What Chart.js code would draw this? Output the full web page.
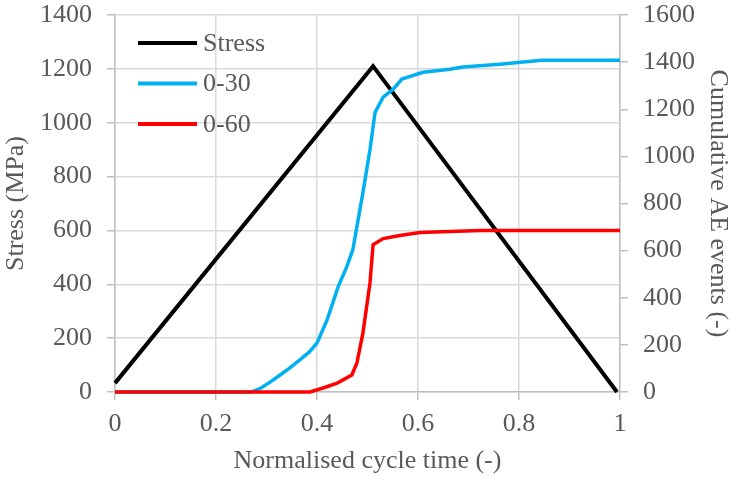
<!DOCTYPE html>
<html>
<head>
<meta charset="utf-8">
<script src="https://cdn.jsdelivr.net/npm/chart.js@4"></script>
<style>
  html, body { margin: 0; padding: 0; background: #fff; }
  #wrap { width: 733px; height: 477px; }
</style>
</head>
<body>
<div id="wrap"><canvas id="myChart" width="733" height="477"></canvas></div>
<script>
// stress cycle (left axis, MPa)
const stressTime = [0, 0.511, 0.994];
const stressValues = [33, 1210, 0];

// AE events, 0-30 (right axis)
const ae30Time = [0, 0.27, 0.29, 0.307, 0.327, 0.345, 0.366, 0.385, 0.4, 0.42, 0.442, 0.459, 0.471,
    0.479, 0.491, 0.505, 0.515, 0.531, 0.551, 0.568, 0.61, 0.663, 0.689, 0.762, 0.788, 0.845, 1.0];
const ae30Counts = [0, 0, 18, 42, 72, 100, 136, 170, 208, 306, 447, 532, 604,
    702, 847, 1030, 1187, 1251, 1285, 1328, 1357, 1370, 1379, 1391, 1396, 1408, 1408];

// AE events, 0-60 (right axis)
const ae60Time = [0, 0.386, 0.412, 0.44, 0.469, 0.479, 0.491, 0.505, 0.511, 0.531, 0.564, 0.604, 0.723, 1.0];
const ae60Counts = [0, 0, 17, 38, 72, 123, 251, 464, 625, 651, 664, 677, 685, 685];

const xTicks = [0, 0.2, 0.4, 0.6, 0.8, 1];

const font = 'Liberation Serif';
const fontSize = 26;
const textColor = '#595959';

function toPoints(xs, ys) {
    return xs.map((x, i) => ({x: x, y: ys[i]}));
}

// legend drawn inside the plot, top left
const insideLegend = {
    id: 'insideLegend',
    afterDraw(chart) {
        const ctx = chart.ctx;
        ctx.save();
        ctx.font = fontSize + 'px "' + font + '"';
        ctx.textBaseline = 'middle';
        chart.data.datasets.forEach((ds, i) => {
            const y = 43 + i * 40.5;
            ctx.strokeStyle = ds.borderColor;
            ctx.lineWidth = 4;
            ctx.beginPath();
            ctx.moveTo(138, y);
            ctx.lineTo(197, y);
            ctx.stroke();
            ctx.fillStyle = textColor;
            ctx.fillText(ds.label, 203, y + 1);
        });
        ctx.restore();
    }
};

const tickFont = { family: font, size: fontSize };

// fixed axis sizes so the plot area sits where the reference has it
function fitVertical(width) {
    return (axis) => {
        axis.width = width;
        axis.paddingTop = 0;
        axis.paddingBottom = 0;
    };
}

const ctx = document.getElementById('myChart');
new Chart(ctx, {
    type: 'line',
    data: {
        datasets: [{
            label: 'Stress',
            data: toPoints(stressTime, stressValues),
            borderColor: '#000000',
            borderWidth: 4,
            yAxisID: 'y',
            order: 3
        }, {
            label: '0-30',
            data: toPoints(ae30Time, ae30Counts),
            borderColor: '#00B0F0',
            borderWidth: 3.5,
            yAxisID: 'y1',
            order: 2
        }, {
            label: '0-60',
            data: toPoints(ae60Time, ae60Counts),
            borderColor: '#FF0000',
            borderWidth: 3.5,
            yAxisID: 'y1',
            order: 1
        }]
    },
    options: {
        responsive: false,
        animation: false,
        clip: false,
        elements: { point: { radius: 0 }, line: { tension: 0 } },
        layout: { padding: { top: 15, left: 0, right: 0, bottom: 0 } },
        plugins: { legend: { display: false }, tooltip: { enabled: false } },
        scales: {
            x: {
                type: 'linear',
                min: 0,
                max: 1,
                afterBuildTicks: (axis) => { axis.ticks = xTicks.map(v => ({value: v})); },
                afterFit: (axis) => { axis.height = 85; axis.paddingLeft = 0; axis.paddingRight = 0; },
                grid: { color: '#d9d9d9', lineWidth: 1.5, tickLength: 8, tickColor: '#bfbfbf' },
                border: { color: '#bfbfbf', width: 1.5 },
                ticks: {
                    padding: 9,
                    color: textColor,
                    font: tickFont,
                    callback: (v) => String(v)
                },
                title: {
                    display: true,
                    text: 'Normalised cycle time (-)',
                    color: textColor,
                    font: tickFont,
                    padding: 0
                }
            },
            y: {
                position: 'left',
                min: 0,
                max: 1400,
                afterFit: fitVertical(115),
                grid: { color: '#d9d9d9', lineWidth: 1.5, tickLength: 8, tickColor: '#bfbfbf' },
                border: { color: '#bfbfbf', width: 1.5 },
                ticks: {
                    stepSize: 200,
                    padding: 15,
                    color: textColor,
                    font: tickFont,
                    callback: (v) => String(v)
                },
                title: {
                    display: true,
                    text: 'Stress (MPa)',
                    color: textColor,
                    font: tickFont,
                    padding: 1
                }
            },
            y1: {
                position: 'right',
                min: 0,
                max: 1600,
                afterFit: fitVertical(113),
                grid: { drawOnChartArea: false, tickLength: 8, tickColor: '#bfbfbf', lineWidth: 1.5 },
                border: { color: '#bfbfbf', width: 1.5 },
                ticks: {
                    stepSize: 200,
                    padding: 15,
                    color: textColor,
                    font: tickFont,
                    callback: (v) => String(v)
                },
                title: {
                    display: true,
                    text: 'Cumulative AE events (-)',
                    color: textColor,
                    font: tickFont,
                    padding: 0
                }
            }
        }
    },
    plugins: [insideLegend]
});
</script>
</body>
</html>
